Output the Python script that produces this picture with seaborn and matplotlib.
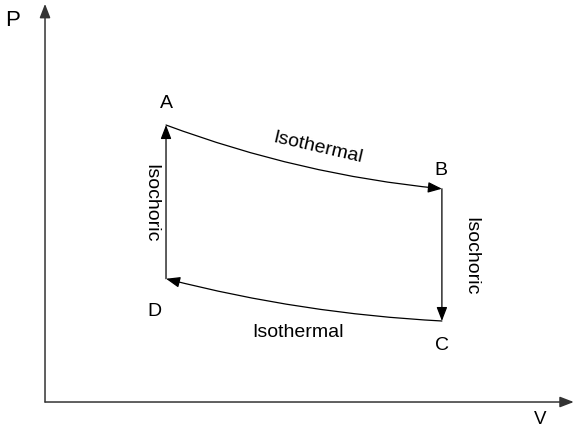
import matplotlib
matplotlib.use("Agg")
import matplotlib.pyplot as plt
import seaborn as sns
import pandas as pd

# state points of the cycle (arbitrary units)
states = ["A", "B", "C", "D"]
volume = [1.0, 3.28, 3.28, 1.0]
pressure = [4.0, 3.08, 1.17, 1.78]

# processes: start -> end and their names
proc_start = ["A", "B", "C", "D"]
proc_end = ["B", "C", "D", "A"]
proc_name = ["Isothermal", "Isochoric", "Isothermal", "Isochoric"]

df = pd.DataFrame({"state": states, "V": volume, "P": pressure}).set_index("state")

sns.set_theme(style="white")
plt.rcParams["font.family"] = ["Liberation Sans", "DejaVu Sans"]
plt.rcParams["text.color"] = "black"

fig = plt.figure(figsize=(5.79, 4.35), dpi=100)
ax = fig.add_axes([0, 0, 1, 1])
ax.set_xlim(-0.372, 4.413)
ax.set_ylim(-0.462, 5.82)
ax.set_axis_off()

arrow = dict(arrowstyle="-|>,head_length=0.7,head_width=0.27", color="black",
             lw=0.9, shrinkA=0, shrinkB=0, mutation_scale=12)

# coordinate axes
ax.annotate("", xy=(4.37, 0), xytext=(0, 0), arrowprops={**arrow, "color": "#333333", "lw": 1.1})
ax.annotate("", xy=(0, 5.75), xytext=(0, 0), arrowprops={**arrow, "color": "#333333", "lw": 1.1})
ax.text(-0.27, 5.53, "P", fontsize=16, ha="center", va="center")
ax.text(4.09, -0.245, "V", fontsize=13.5, ha="center", va="center")

# process curves
bend = {"AB": 0.065, "BC": 0.0, "CD": -0.05, "DA": 0.0}
label_off = {"AB": (10, 7), "BC": (21, 0), "CD": (-4, -23), "DA": (-11, 0)}
label_rot = {"AB": -13, "BC": 270, "CD": 0, "DA": 270}
for s, e, name in zip(proc_start, proc_end, proc_name):
    k = s + e
    p0 = (df.loc[s, "V"], df.loc[s, "P"])
    p1 = (df.loc[e, "V"], df.loc[e, "P"])
    ax.annotate("", xy=p1, xytext=p0,
                arrowprops={**arrow, "connectionstyle": f"arc3,rad={bend[k]}"})
    mid = ((p0[0] + p1[0]) / 2, (p0[1] + p1[1]) / 2)
    ax.annotate(name, xy=mid, xytext=label_off[k], textcoords="offset points",
                ha="center", va="center", rotation=label_rot[k], fontsize=14)

# state labels
state_off = {"A": (0, 16), "B": (-1, 14), "C": (0, -17), "D": (-8, -23)}
for st in states:
    ax.annotate(st, xy=(df.loc[st, "V"], df.loc[st, "P"]), xytext=state_off[st],
                textcoords="offset points", ha="center", va="center", fontsize=14)

fig.savefig("out.png", dpi=100)
